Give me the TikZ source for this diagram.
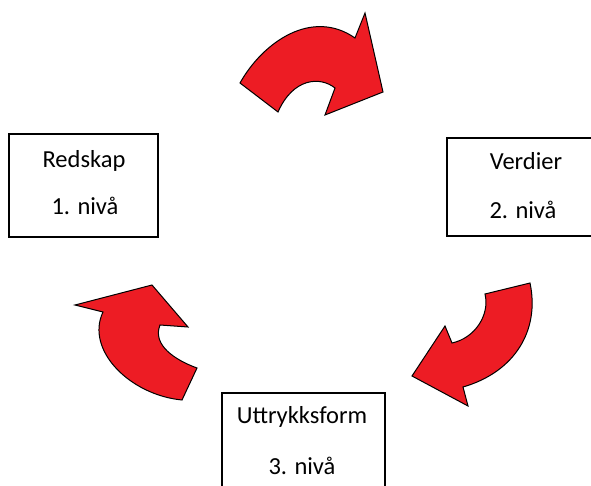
\documentclass[tikz,border=0pt]{standalone}
\usepackage{fontspec}
\setmainfont{Carlito}
\definecolor{arrred}{HTML}{ED1C24}
\begin{document}
\begin{tikzpicture}[x=1pt,y=-1pt,
  box/.style={draw=black,line width=1.4pt,inner sep=0pt},
  lbl/.style={anchor=base,inner sep=0pt,font=\fontsize{24.5}{29}\selectfont},
  curvarrow/.style={fill=arrred,draw=black,line width=1pt,line join=miter}]
\useasboundingbox (0,0) rectangle (591,486);
\fill[white] (0,0) rectangle (591,486);
% boxes
\node[box,minimum width=149pt,minimum height=103pt] (b1) at (83.5,185.5) {};
\node[box,minimum width=153pt,minimum height=98pt] (b2) at (523.5,187) {};
\node[box,minimum width=163pt,minimum height=110pt] (b3) at (303.5,448) {};
% labels
\node[lbl] (t1a) at (84,168) {Redskap};
\node[lbl] (t1b) at (85,215) {1. nivå};
\node[lbl] (t2a) at (526,170) {Verdier};
\node[lbl] (t2b) at (523,219) {2. nivå};
\node[lbl] (t3a) at (302,423) {Uttrykksform};
\node[lbl] (t3b) at (302,474) {3. nivå};
% top curved arrow
\draw[curvarrow] (240,83) .. controls (263,42) and (312,8) .. (355,38)
  -- (365,13) -- (383,92) -- (325,115) -- (335,88)
  .. controls (320,76) and (293,78) .. (278,112) -- cycle;
% right curved arrow
\draw[curvarrow] (530,283) -- (485,294)
  .. controls (490,315) and (475,338) .. (452,343)
  -- (445,326) -- (412,376) -- (468,406) -- (463,387)
  .. controls (515,372) and (540,330) .. (530,283) -- cycle;
% left curved arrow
\draw[curvarrow] (182,400) -- (197,368)
  .. controls (175,360) and (152,345) .. (160,325)
  -- (188,327) -- (152,285) -- (75,305) -- (103,312)
  .. controls (85,350) and (130,395) .. (182,400) -- cycle;
\end{tikzpicture}
\end{document}
